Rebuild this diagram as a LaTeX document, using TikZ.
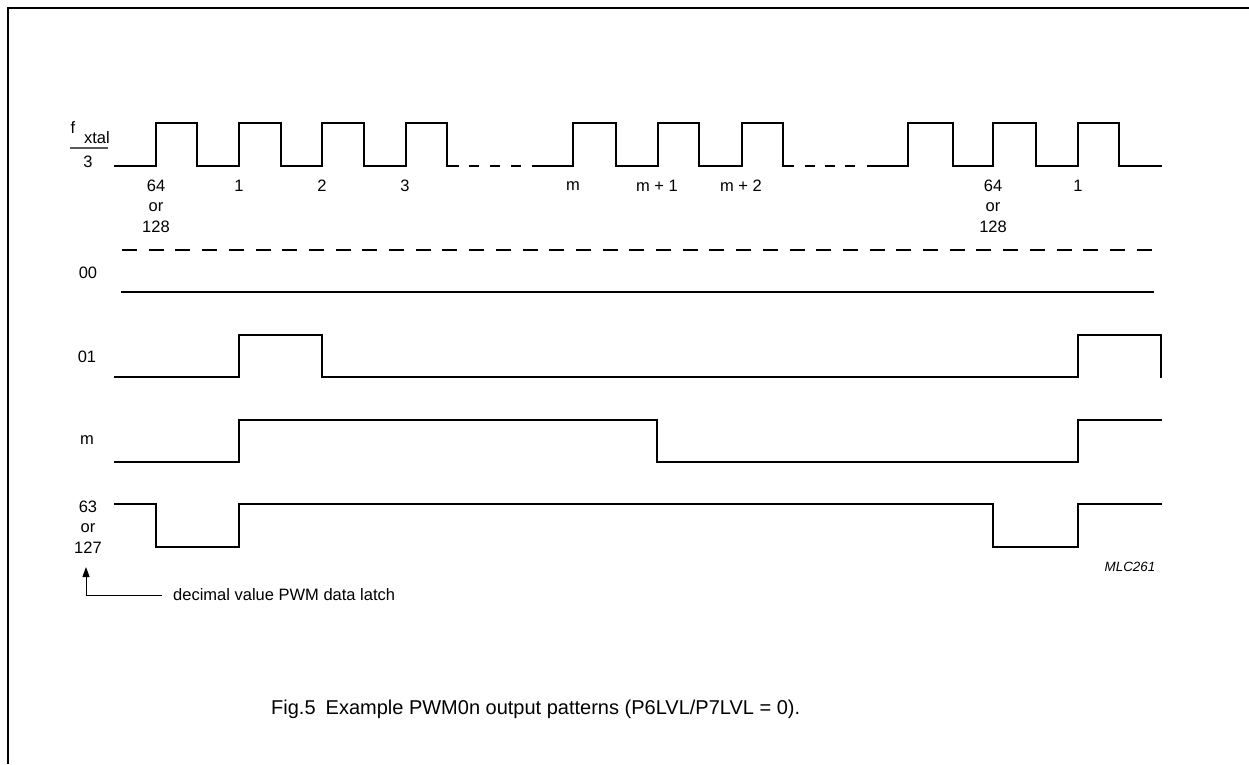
\documentclass[tikz,border=0pt]{standalone}
\usepackage{fontspec}
\setmainfont{Liberation Sans}
\usetikzlibrary{arrows.meta}
\begin{document}
\begin{tikzpicture}[x=1pt,y=-1pt,
  wave/.style={line width=2pt,line join=miter,line cap=rect},
  lbl/.style={font=\fontsize{16.5}{18}\selectfont,inner sep=0pt,anchor=center},
  stack/.style={lbl,align=center,font=\fontsize{16.5}{20.5}\selectfont}]
\useasboundingbox (0,0) rectangle (1249,764);
\draw[line width=2pt] (8,764) -- (8,8) -- (1249,8);
% clock
\node[lbl] (f) at (73,128) {f};
\node[lbl] (xt) at (97,138) {xtal};
\draw[line width=1.2pt,gray!70!black] (70,148) -- (108,148);
\node[lbl] (three) at (88,162) {3};
\draw[wave] (115,166) -- (156,166) -- (156,123) -- (197,123) -- (197,166) -- (239,166) -- (239,123) -- (281,123) -- (281,166)
  -- (322,166) -- (322,123) -- (364,123) -- (364,166) -- (406,166) -- (406,123) -- (447,123) -- (447,166) -- (458,166);
\draw[wave,line cap=butt,dash pattern=on 10pt off 11pt] (469,166) -- (532,166);
\draw[wave] (533,166) -- (573,166) -- (573,123) -- (616,123) -- (616,166) -- (658,166) -- (658,123) -- (699,123) -- (699,166)
  -- (742,166) -- (742,123) -- (783,123) -- (783,166) -- (793,166);
\draw[wave,line cap=butt,dash pattern=on 10pt off 10pt] (805,166) -- (860,166);
\draw[wave] (868,166) -- (908,166) -- (908,123) -- (953,123) -- (953,166) -- (993,166) -- (993,123) -- (1036,123) -- (1036,166)
  -- (1078,166) -- (1078,123) -- (1119,123) -- (1119,166) -- (1161,166);
\node[stack] (c64a) at (156,206) {64\\or\\128};
\node[lbl] (c1a) at (239,186) {1};
\node[lbl] (c2) at (322,186) {2};
\node[lbl] (c3) at (405,186) {3};
\node[lbl] (cm) at (573,186) {m};
\node[lbl] (cm1) at (657,186) {m + 1};
\node[lbl] (cm2) at (741,186) {m + 2};
\node[stack] (c64b) at (993,206) {64\\or\\128};
\node[lbl] (c1b) at (1078,186) {1};
% dashed line
\draw[wave,line cap=butt,dash pattern=on 15pt off 11.7pt] (122,250) -- (1160,250);
% 00
\node[lbl] (l00) at (88,273) {00};
\draw[wave] (122,292) -- (1153,292);
% 01
\node[lbl] (l01) at (87,357) {01};
\draw[wave] (115,377) -- (239,377) -- (239,335) -- (322,335) -- (322,377) -- (1078,377) -- (1078,335) -- (1161,335) -- (1161,377);
% m
\node[lbl] (lm) at (87,440) {m};
\draw[wave] (115,462) -- (239,462) -- (239,420) -- (657,420) -- (657,462) -- (1078,462) -- (1078,420) -- (1161,420);
% 63 or 127
\node[stack] (l63) at (88,527) {63\\or\\127};
\draw[wave] (115,504) -- (156,504) -- (156,547) -- (239,547) -- (239,504) -- (993,504) -- (993,547) -- (1078,547) -- (1078,504) -- (1161,504);
% arrow
\node[lbl,anchor=west] (latch) at (173,595) {decimal value PWM data latch};
\coordinate (tip) at (86,567);
\draw[line width=1pt,-{Triangle[width=7pt,length=10pt]}] (latch.west) ++(-11,0) coordinate (c0) -| (tip);
\node[font=\fontsize{13.4}{14}\selectfont\itshape,inner sep=0pt] (mlc) at (1130,567) {MLC261};
% caption
\node[font=\fontsize{20}{22}\selectfont,inner sep=0pt,anchor=west] (cap) at (271,709) {Fig.5\hspace{0.5em}Example PWM0n output patterns (P6LVL/P7LVL = 0).};
\end{tikzpicture}
\end{document}
